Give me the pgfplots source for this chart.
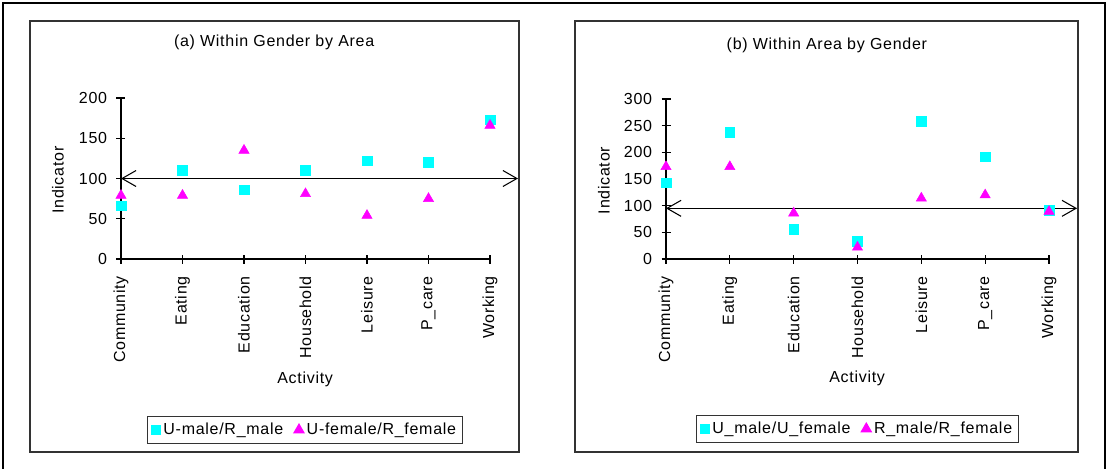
\documentclass[border=0pt]{standalone}
\usepackage{fontspec}
\setmainfont[LetterSpace=4.5]{Liberation Sans}
\usepackage{pgfplots}
\pgfplotsset{compat=1.18}
\usetikzlibrary{arrows.meta}

\definecolor{ucyan}{RGB}{0,255,255}
\definecolor{umag}{RGB}{255,0,255}

\pgfplotsset{
  panel/.style={
    scale only axis, anchor=south west, clip=false,
    xmin=0, xmax=6, ymin=0,
    axis lines=left,
    axis line style={-, black, line width=0.8pt},
    tick align=center, major tick length=6.75pt,
    tick style={black, line width=0.8pt},
    xtick={0,...,6},
    xticklabels={Community,Eating,Education,Household,Leisure,P\_care,Working},
    x tick label style={rotate=90, anchor=east},
    xticklabel shift=6pt, yticklabel shift=3.5pt,
    tick label style={font=\fontsize{12}{14}\selectfont},
    label style={font=\fontsize{12}{14}\selectfont},
    /pgf/number format/assume math mode=true,
    legend columns=2,
    legend style={font=\fontsize{12}{14}\selectfont, anchor=center,
      draw=black!80, line width=0.8pt, inner xsep=3pt, inner ysep=3pt,
      /tikz/every even column/.append style={column sep=6pt}},
  },
  sq/.style={only marks, mark=square*, mark size=3.6pt, color=ucyan},
  tri/.style={only marks, mark=triangle*, mark size=4.4pt, color=umag},
  ref/.style={black, line width=0.8pt,
    {Straight Barb[length=10.5pt,width=12pt]}-{Straight Barb[length=10.5pt,width=12pt]}},
}

\begin{document}
\begin{tikzpicture}
\useasboundingbox (0,0) rectangle (830.25pt,351pt);
% outer frame (open at the bottom)
\draw[line width=1.6pt] (2.25pt,-2pt) -- (2.25pt,348.75pt) -- (828.75pt,348.75pt) -- (828.75pt,-2pt);
% panel frames
\draw[black!80, line width=1pt] (22.5pt,12pt) rectangle (389.25pt,335.25pt);
\draw[black!80, line width=1pt] (431.25pt,12pt) rectangle (808.5pt,335.25pt);

% (a)
\begin{axis}[panel,
  at={(90.75pt,156.75pt)}, width=276.75pt, height=120.75pt,
  ymax=200, ytick={0,50,100,150,200},
  xlabel={Activity}, xlabel style={at={(axis description cs:0.499,-0.745)}, anchor=center},
  ylabel={Indicator}, ylabel style={at={(axis description cs:-0.171,0.49)}, anchor=center},
  legend style={at={(axis description cs:0.4986,-1.062)}},
]
\addplot[sq] coordinates {(0,66) (1,110) (2,86) (3,110) (4,122) (5,120) (6,173)};
\addlegendentry{U-male/R\_male}
\addplot[tri] coordinates {(0,79) (1,79) (2,135) (3,81) (4,54) (5,75) (6,166)};
\addlegendentry{U-female/R\_female}
\addplot[ref, forget plot] coordinates {(0,100) (6.455,100)};
\node[font=\fontsize{12}{14}\selectfont] at (rel axis cs:0.415,1.348) {(a) Within Gender by Area};
\end{axis}

% (b)
\begin{axis}[panel,
  at={(499.5pt,156.75pt)}, width=287.25pt, height=120pt,
  ymax=300, ytick={0,50,100,150,200,250,300},
  xlabel={Activity}, xlabel style={at={(axis description cs:0.499,-0.745)}, anchor=center},
  ylabel={Indicator}, ylabel style={at={(axis description cs:-0.162,0.49)}, anchor=center},
  legend style={at={(axis description cs:0.5,-1.062)}},
]
\addplot[sq] coordinates {(0,143) (1,238) (2,56) (3,33) (4,258) (5,192) (6,91)};
\addlegendentry{U\_male/U\_female}
\addplot[tri] coordinates {(0,173) (1,173) (2,86) (3,22) (4,114) (5,120) (6,89)};
\addlegendentry{R\_male/R\_female}
\addplot[ref, forget plot] coordinates {(0,95) (6.44,95)};
\node[font=\fontsize{12}{14}\selectfont] at (rel axis cs:0.42,1.335) {(b) Within Area by Gender};
\end{axis}
\end{tikzpicture}
\end{document}
